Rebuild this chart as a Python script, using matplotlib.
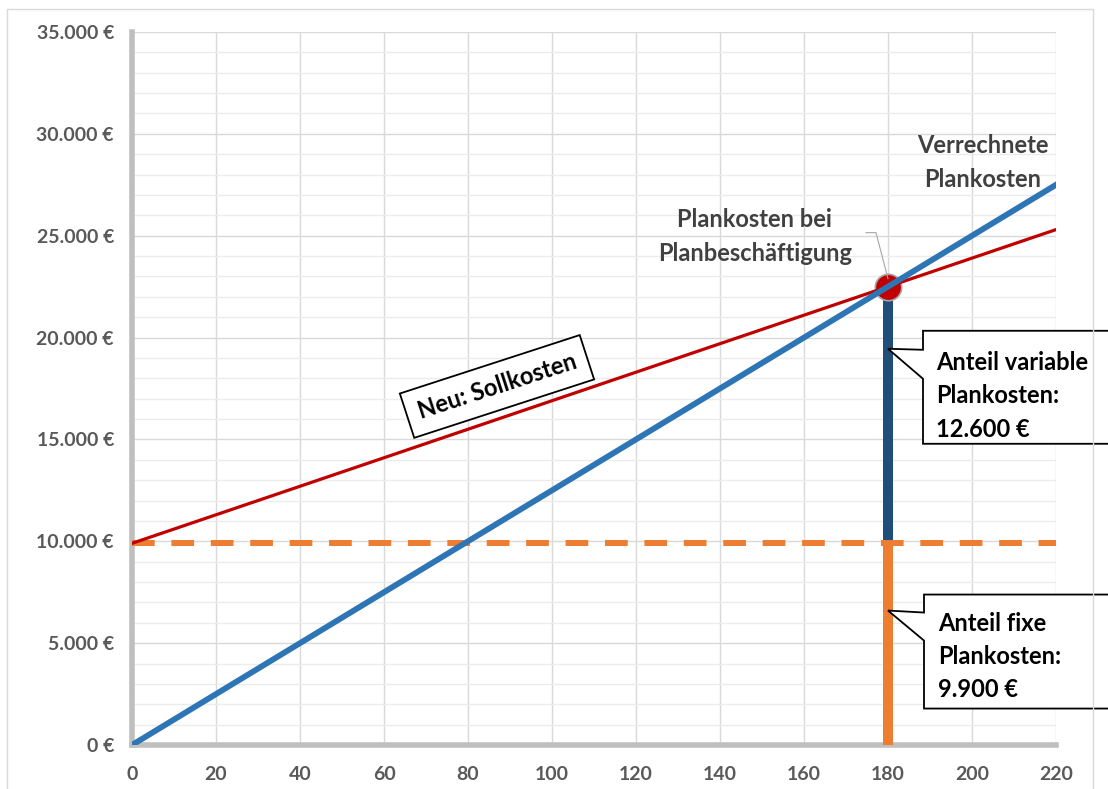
import matplotlib
matplotlib.use('Agg')
import matplotlib.pyplot as plt
import matplotlib.transforms as mtransforms
from matplotlib.patches import Polygon, Rectangle
from matplotlib.ticker import MultipleLocator, FuncFormatter

plt.rcParams['font.family'] = ['Lato', 'DejaVu Sans']

# Beschäftigung (x) und Kostenverläufe
menge = [0, 220]
verrechnete_plankosten = [0, 27500]
sollkosten = [9900, 25300]
fixkosten = [9900, 9900]

plan_menge = 180
plan_kosten = 22500
anteil_fix = 9900
anteil_variabel = 12600

grau_text = '#595959'
achse = '#BFBFBF'

fig = plt.figure(figsize=(11.08, 7.89), dpi=100)
ax = fig.add_axes([132 / 1108, 44 / 789, 924 / 1108, 713 / 789])

# Rahmen um das Diagramm
fig.patches.append(Rectangle((7 / 1108, -0.05), 1086 / 1108, 1.05 - 9 / 789,
                             transform=fig.transFigure, fill=False,
                             edgecolor='#D9D9D9', lw=1.0))

ax.set_xlim(0, 220)
ax.set_ylim(0, 35000)
ax.xaxis.set_major_locator(MultipleLocator(20))
ax.yaxis.set_major_locator(MultipleLocator(5000))
ax.yaxis.set_minor_locator(MultipleLocator(1000))
ax.grid(which='major', color='#D9D9D9', lw=1.0, zorder=0)
ax.grid(which='minor', axis='y', color='#ECECEC', lw=1.0, zorder=0)
ax.set_axisbelow(True)

def euro(v, pos):
    return '{:,.0f} €'.format(v).replace(',', '.')

ax.yaxis.set_major_formatter(FuncFormatter(euro))
ax.tick_params(axis='both', which='both', length=0, colors=grau_text, labelsize=14)
ax.tick_params(axis='x', pad=15)
ax.tick_params(axis='y', pad=13)
for lab in ax.get_xticklabels() + ax.get_yticklabels():
    lab.set_fontweight('bold')

for s in ['top', 'right']:
    ax.spines[s].set_visible(False)
for s in ['left', 'bottom']:
    ax.spines[s].set_color(achse)
    ax.spines[s].set_linewidth(4)
    ax.spines[s].set_zorder(1)

# Säulen: fixer und variabler Anteil
ax.bar(plan_menge, anteil_fix, width=2.4, color='#ED7D31', zorder=2)
ax.bar(plan_menge, anteil_variabel, width=2.4, bottom=anteil_fix, color='#1F4E79', zorder=2)

ax.plot(menge, fixkosten, color='#ED7D31', lw=4.3, dashes=(3.8, 2.8), zorder=3)
ax.plot(plan_menge, plan_kosten, 'o', ms=19, color='#C00000', mec='#A6A6A6', mew=1.2, zorder=3)
ax.plot(menge, sollkosten, color='#C00000', lw=2.3, zorder=4)
ax.plot(menge, verrechnete_plankosten, color='#2E75B6', lw=4.2, zorder=5)

# Beschriftungen
txt = dict(fontsize=17, fontweight='bold', color='#404040', ha='center', va='center',
           linespacing=1.6)
ax.text(202.5, 28600, 'Verrechnete\nPlankosten', **txt)
ax.text(148.3, 24950, 'Plankosten bei\nPlanbeschäftigung', **txt)

pt_trans = fig.dpi_scale_trans + mtransforms.ScaledTranslation(plan_menge, plan_kosten, ax.transData)
ax.plot([-0.22, -0.12, 0.0], [0.54, 0.54, 0.08], color='#A6A6A6', lw=0.8,
        transform=pt_trans, zorder=6, clip_on=False)

ax.text(86.9, 17600, 'Neu: Sollkosten', fontsize=17, fontweight='bold', color='black',
        rotation=18, rotation_mode='anchor', ha='center', va='center', zorder=7,
        bbox=dict(boxstyle='square,pad=0.5', fc='white', ec='black', lw=1.3))


def sprechblase(y_spitze, oben, unten, keil_o, keil_u, links, text, text_dx, text_dy):
    trans = fig.dpi_scale_trans + mtransforms.ScaledTranslation(plan_menge, y_spitze, ax.transData)
    pts = [(0, 0), (links, keil_o), (links, oben), (2.4, oben), (2.4, unten),
           (links, unten), (links, keil_u)]
    ax.add_patch(Polygon(pts, closed=True, fc='white', ec='black', lw=1.3,
                         transform=trans, clip_on=False, zorder=8))
    ax.text(text_dx, text_dy, text, transform=trans, fontsize=17, fontweight='bold',
            color='black', ha='left', va='center', linespacing=1.55, zorder=9)


sprechblase(19450, 0.18, -0.95, -0.01, -0.30, 0.35,
            'Anteil variable\nPlankosten:\n12.600 €', 0.48, -0.47)
sprechblase(6600, 0.16, -0.98, -0.02, -0.30, 0.36,
            'Anteil fixe\nPlankosten:\n9.900 €', 0.50, -0.46)

fig.savefig('out.png', dpi=100)
